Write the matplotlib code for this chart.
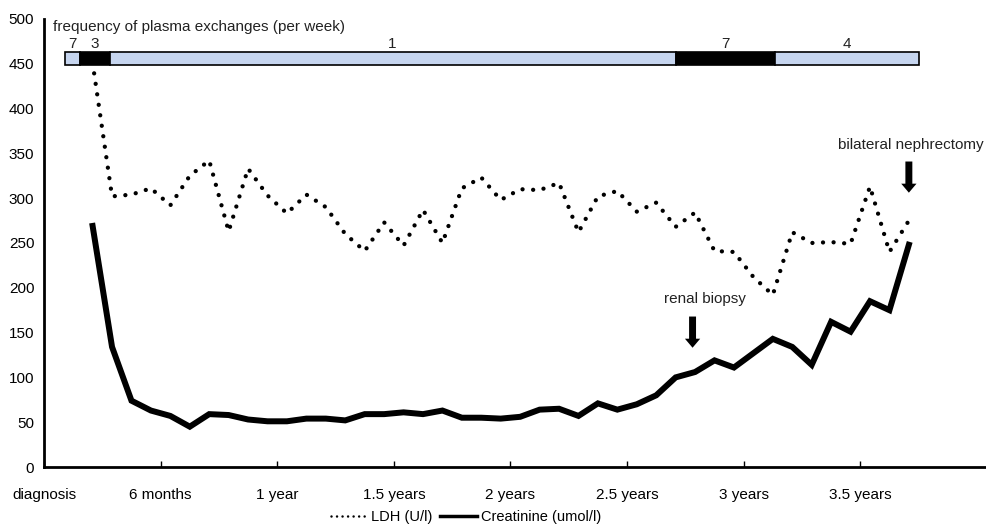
import matplotlib.pyplot as plt
from matplotlib.lines import Line2D

plt.rcParams['font.family'] = ['Liberation Sans', 'DejaVu Sans']

# months since diagnosis, one sample per month
months = [2.5 + i for i in range(43)]

ldh = [451, 302, 304, 311, 292, 325, 342, 263, 333, 303, 283, 304, 290, 260,
       241, 273, 247, 287, 250, 311, 323, 298, 310, 309, 317, 262, 302, 308,
       285, 295, 268, 284, 241, 240, 212, 192, 262, 250, 251, 249, 313, 240, 275]

creatinine = [269, 134, 74, 63, 57, 45, 59, 58, 53, 51, 51, 54, 54, 52, 59,
              59, 61, 59, 63, 55, 55, 54, 56, 64, 65, 57, 71, 64, 70, 80, 100,
              106, 119, 111, 127, 143, 134, 114, 162, 151, 185, 175, 248]

tick_months = [0, 6, 12, 18, 24, 30, 36, 42]
tick_labels = ['diagnosis', '6 months', '1 year', '1.5 years', '2 years',
               '2.5 years', '3 years', '3.5 years']

# plasma exchange frequency periods (months)
seg_start = [1.08, 1.86, 3.37, 32.5, 37.6]
seg_end = [1.86, 3.37, 32.5, 37.6, 45.0]
seg_freq = ['7', '3', '1', '7', '4']
seg_color = ['#c6d5ef', 'black', '#c6d5ef', 'black', '#c6d5ef']

ARROW = 'simple,head_width=1.1,head_length=0.65,tail_width=0.5'


def main():
    fig = plt.figure(figsize=(9.87, 5.29), dpi=100)
    ax = fig.add_axes([0.0446, 0.1172, 0.955, 0.847])

    ax.plot(months, ldh, color='black', lw=3.1,
            linestyle=(0, (0.01, 2.45)), dash_capstyle='round', zorder=2)
    ax.plot(months, creatinine, color='black', lw=4.3,
            solid_joinstyle='miter', zorder=2)

    # frequency bar
    widths = [e - s for s, e in zip(seg_start, seg_end)]
    ax.barh([456] * len(seg_start), widths, left=seg_start, height=14,
            color=seg_color, edgecolor='black', linewidth=1.2, zorder=3)
    for s, e, f in zip(seg_start, seg_end, seg_freq):
        ax.text((s + e) / 2, 464, f, ha='center', va='bottom', fontsize=11,
                color='#222222')
    ax.text(0.46, 491, 'frequency of plasma exchanges (per week)', ha='left',
            va='center', fontsize=11, color='#222222')

    # event arrows
    ax.annotate('', xy=(33.37, 130), xytext=(33.37, 171),
                arrowprops=dict(arrowstyle=ARROW, color='black', lw=0,
                                mutation_scale=10))
    ax.text(34.0, 188, 'renal biopsy', ha='center', va='center', fontsize=11,
            color='#222222')
    ax.annotate('', xy=(44.5, 303), xytext=(44.5, 344),
                arrowprops=dict(arrowstyle=ARROW, color='black', lw=0,
                                mutation_scale=10))
    ax.text(44.6, 359, 'bilateral nephrectomy', ha='center', va='center',
            fontsize=11, color='#222222')

    ax.set_xlim(0, 48.5)
    ax.set_ylim(0, 500)
    ax.set_yticks(range(0, 501, 50))
    ax.set_xticks(tick_months)
    ax.set_xticklabels(tick_labels)
    ax.tick_params(axis='y', length=0, pad=7, labelsize=11)
    ax.tick_params(axis='x', direction='in', length=4, width=1, pad=15,
                   labelsize=11)
    for side in ['top', 'right']:
        ax.spines[side].set_visible(False)
    for side in ['left', 'bottom']:
        ax.spines[side].set_linewidth(2)

    handles = [Line2D([], [], color='black', lw=1.8, linestyle=(0, (0.01, 2.2)),
                      dash_capstyle='round'),
               Line2D([], [], color='black', lw=2.5)]
    fig.legend(handles, ['LDH (U/l)', 'Creatinine (umol/l)'], ncol=2,
               loc='center', bbox_to_anchor=(0.472, 0.023), frameon=False,
               fontsize=10.5, handlelength=2.5, handletextpad=0.3,
               columnspacing=0.5)

    fig.savefig('out.png', dpi=100)


if __name__ == '__main__':
    main()
